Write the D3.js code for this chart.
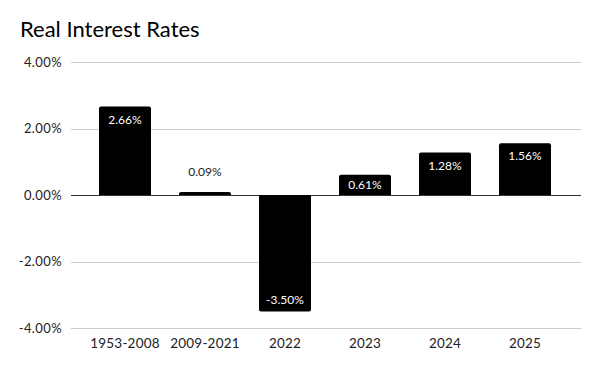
<!DOCTYPE html>
<meta charset="utf-8">
<style>
body { margin: 0; background: #fff; }
svg text { font-family: Lato, "Open Sans", sans-serif; }
.title { font-size: 22px; fill: #000; }
.tick-label { font-size: 13px; fill: #222; letter-spacing: 0.4px; }
.cat-label { font-size: 13.5px; fill: #222; letter-spacing: 0.2px; }
.bar-label { font-size: 12px; }
</style>
<svg width="600" height="371"></svg>
<script src="https://d3js.org/d3.v7.min.js"></script>
<script>

// data //
var categories = ["1953-2008", "2009-2021", "2022", "2023", "2024", "2025"];
var rates = [2.66, 0.09, -3.50, 0.61, 1.28, 1.56];
var yTicks = [-4, -2, 0, 2, 4];

var svg = d3.select("svg");

var x = d3.scaleBand()
    .domain(categories)
    .range([85, 565])
    .paddingInner(0.35)
    .paddingOuter(0.175);

var y = d3.scaleLinear()
    .domain([-4, 4])
    .range([328, 62]);

var gridLeft = 71, gridRight = 581;

// title //
svg.append("text")
    .attr("class", "title")
    .attr("x", 20)
    .attr("y", 37)
    .text("Real Interest Rates");

// gridlines + y labels //
var grid = svg.append("g");
grid.selectAll("line")
    .data(yTicks)
    .enter().append("line")
    .attr("x1", gridLeft)
    .attr("x2", gridRight)
    .attr("y1", function(d) { return Math.round(y(d)) + 0.5; })
    .attr("y2", function(d) { return Math.round(y(d)) + 0.5; })
    .attr("stroke", function(d) { return d === 0 ? "#333" : "#ccc"; })
    .attr("stroke-width", 1);

grid.selectAll("text")
    .data(yTicks)
    .enter().append("text")
    .attr("class", "tick-label")
    .attr("x", 62)
    .attr("y", function(d) { return y(d); })
    .attr("dy", "0.35em")
    .attr("text-anchor", "end")
    .text(function(d) { return d.toFixed(2) + "%"; });

// bars //
var data = categories.map(function(c, i) { return { cat: c, v: rates[i] }; });

function barPath(d) {
  var x0 = x(d.cat), w = x.bandwidth();
  var y0 = y(0), y1 = y(d.v);
  var r = Math.min(2, Math.abs(y1 - y0));
  if (d.v >= 0) {
    return "M" + x0 + "," + y0 + "V" + (y1 + r) + "Q" + x0 + "," + y1 + " " + (x0 + r) + "," + y1 +
      "H" + (x0 + w - r) + "Q" + (x0 + w) + "," + y1 + " " + (x0 + w) + "," + (y1 + r) + "V" + y0 + "Z";
  }
  return "M" + x0 + "," + y0 + "V" + (y1 - r) + "Q" + x0 + "," + y1 + " " + (x0 + r) + "," + y1 +
    "H" + (x0 + w - r) + "Q" + (x0 + w) + "," + y1 + " " + (x0 + w) + "," + (y1 - r) + "V" + y0 + "Z";
}

var bars = svg.append("g").selectAll("g")
    .data(data)
    .enter().append("g");

bars.append("path")
    .attr("d", barPath)
    .attr("fill", "#000");

bars.append("text")
    .attr("class", "bar-label")
    .attr("text-anchor", "middle")
    .attr("x", function(d) { return x(d.cat) + x.bandwidth() / 2; })
    .attr("y", function(d) {
      var h = Math.abs(y(d.v) - y(0));
      if (h < 12) return y(d.v) - 20;
      if (d.v >= 0) return Math.min(y(d.v) + 13, (y(d.v) + y(0)) / 2);
      return y(d.v) - 12;
    })
    .attr("dy", "0.35em")
    .attr("fill", function(d) { return Math.abs(y(d.v) - y(0)) < 12 ? "#222" : "#fff"; })
    .text(function(d) { return d.v.toFixed(2) + "%"; });

// x labels //
svg.append("g").selectAll("text")
    .data(categories)
    .enter().append("text")
    .attr("class", "cat-label")
    .attr("text-anchor", "middle")
    .attr("x", function(d) { return x(d) + x.bandwidth() / 2; })
    .attr("y", 343)
    .attr("dy", "0.35em")
    .text(function(d) { return d; });

</script>
